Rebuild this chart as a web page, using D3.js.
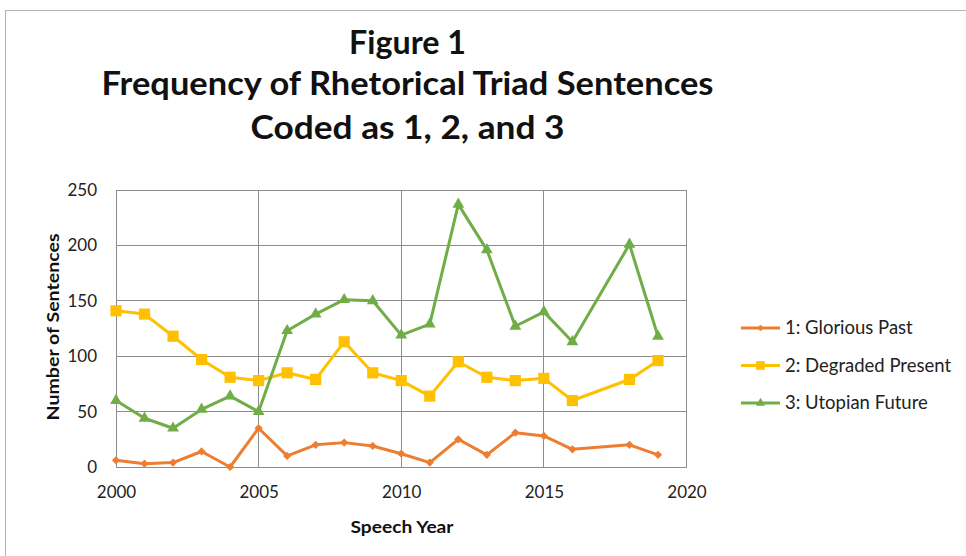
<!DOCTYPE html>
<html>
<head>
<meta charset="utf-8">
<script src="https://cdn.jsdelivr.net/npm/d3@7"></script>
<style>
  body { margin: 0; background: #fff; }
  svg { display: block; }
</style>
</head>
<body>
<svg id="chart" width="966" height="556"></svg>
<script>
// Speech years (no speech coded for 2017)
const years = [2000, 2001, 2002, 2003, 2004, 2005, 2006, 2007, 2008, 2009,
               2010, 2011, 2012, 2013, 2014, 2015, 2016, 2018, 2019];

// Sentence counts per code
const gloriousPast    = [6, 3, 4, 14, 0, 35, 10, 20, 22, 19, 12, 4, 25, 11, 31, 28, 16, 20, 11];
const degradedPresent = [141, 138, 118, 97, 81, 78, 85, 79, 113, 85, 78, 64, 95, 81, 78, 80, 60, 79, 96];
const utopianFuture   = [60, 44, 35, 52, 64, 50, 123, 138, 151, 150, 119, 129, 237, 196, 127, 140, 113, 201, 118];

const seriesNames = ["1: Glorious Past", "2: Degraded Present", "3: Utopian Future"];
const xTicks = [2000, 2005, 2010, 2015, 2020];
const yTicks = [0, 50, 100, 150, 200, 250];
const titleLines = ["Figure 1", "Frequency of Rhetorical Triad Sentences", "Coded as 1, 2, and 3"];
const xTitle = "Speech Year";
const yTitle = "Number of Sentences";

const svg = d3.select("#chart");
const font = "Lato, 'Open Sans', sans-serif";

const plot = { left: 116, right: 686.5, top: 190, bottom: 467 };
const x = d3.scaleLinear().domain([2000, 2020]).range([plot.left, plot.right]);
const y = d3.scaleLinear().domain([0, 250]).range([plot.bottom, plot.top]);

// chart frame
svg.append("rect")
  .attr("x", 5.5).attr("y", 10.5).attr("width", 1000).attr("height", 600)
  .attr("fill", "#fff").attr("stroke", "#b4b4b4").attr("stroke-width", 1);

// title
const titleSpecs = [
  { base: 54, len: 117 },
  { base: 95, len: 612 },
  { base: 139, len: 314 }
];
svg.append("g").selectAll("text").data(titleLines).join("text")
  .attr("x", 407.5).attr("y", (d, i) => titleSpecs[i].base)
  .attr("text-anchor", "middle")
  .attr("font-family", font).attr("font-weight", 700).attr("font-size", 32)
  .attr("textLength", (d, i) => titleSpecs[i].len)
  .attr("lengthAdjust", "spacingAndGlyphs")
  .attr("fill", "#111")
  .text(d => d);

// gridlines
const grid = svg.append("g").attr("stroke", "#8c8c8c").attr("stroke-width", 1).attr("shape-rendering", "crispEdges");
grid.selectAll("line.h").data(yTicks).join("line")
  .attr("class", "h")
  .attr("x1", plot.left).attr("x2", plot.right)
  .attr("y1", d => y(d)).attr("y2", d => y(d));
grid.selectAll("line.v").data(xTicks).join("line")
  .attr("class", "v")
  .attr("x1", d => x(d)).attr("x2", d => x(d))
  .attr("y1", plot.top).attr("y2", plot.bottom);
grid.append("rect")
  .attr("x", plot.left).attr("y", plot.top)
  .attr("width", plot.right - plot.left).attr("height", plot.bottom - plot.top)
  .attr("fill", "none");

// axes
const yAxis = svg.append("g")
  .attr("transform", `translate(${plot.left},0)`)
  .call(d3.axisLeft(y).tickValues(yTicks).tickSize(0).tickPadding(19));
yAxis.select(".domain").remove();
yAxis.selectAll("text").attr("font-family", font).attr("font-size", 17).attr("fill", "#222");

const xAxis = svg.append("g")
  .attr("transform", `translate(0,${plot.bottom})`)
  .call(d3.axisBottom(x).tickValues(xTicks).tickFormat(d3.format("d")).tickSize(0).tickPadding(19));
xAxis.select(".domain").remove();
xAxis.selectAll("text").attr("font-family", font).attr("font-size", 17).attr("fill", "#222");

// axis titles
svg.append("text")
  .attr("x", 402).attr("y", 533)
  .attr("text-anchor", "middle")
  .attr("font-family", font).attr("font-weight", 700).attr("font-size", 17)
  .attr("textLength", 103).attr("lengthAdjust", "spacingAndGlyphs")
  .attr("fill", "#111")
  .text(xTitle);
svg.append("text")
  .attr("transform", "translate(59,327) rotate(-90)")
  .attr("text-anchor", "middle")
  .attr("font-family", font).attr("font-weight", 700).attr("font-size", 17.5)
  .attr("textLength", 187).attr("lengthAdjust", "spacingAndGlyphs")
  .attr("fill", "#111")
  .text(yTitle);

// series
const series = [
  { name: seriesNames[0], values: gloriousPast,    color: "#ED7D31", symbol: d3.symbolSquare,   size: 34,  rotate: 45 },
  { name: seriesNames[1], values: degradedPresent, color: "#FFC000", symbol: d3.symbolSquare,   size: 125, rotate: 0 },
  { name: seriesNames[2], values: utopianFuture,   color: "#70AD47", symbol: d3.symbolTriangle, size: 60,  rotate: 0 }
];

const line = d3.line().x(d => x(d.year)).y(d => y(d.value));

series.forEach(s => {
  const pts = years.map((yr, i) => ({ year: yr, value: s.values[i] }));
  const g = svg.append("g");
  g.append("path")
    .datum(pts)
    .attr("fill", "none")
    .attr("stroke", s.color)
    .attr("stroke-width", 3)
    .attr("stroke-linejoin", "round")
    .attr("d", line);
  g.selectAll("path.mark").data(pts).join("path")
    .attr("class", "mark")
    .attr("transform", d => `translate(${x(d.year)},${y(d.value)}) rotate(${s.rotate})`)
    .attr("d", d3.symbol().type(s.symbol).size(s.size))
    .attr("fill", s.color);
});

// legend
const legend = svg.append("g").attr("transform", "translate(741,328)");
const rows = legend.selectAll("g").data(series).join("g")
  .attr("transform", (d, i) => `translate(0,${i * 37.5})`);
rows.append("line")
  .attr("x1", 0).attr("x2", 39).attr("y1", 0).attr("y2", 0)
  .attr("stroke", d => d.color).attr("stroke-width", 3);
rows.append("path")
  .attr("transform", d => `translate(19.5,0) rotate(${d.rotate})`)
  .attr("d", d => d3.symbol().type(d.symbol).size(d.size * 0.6)())
  .attr("fill", d => d.color);
rows.append("text")
  .attr("x", 44).attr("y", 0).attr("dy", "0.35em")
  .attr("font-family", font).attr("font-size", 18.5).attr("fill", "#222")
  .text(d => d.name);
</script>
</body>
</html>
